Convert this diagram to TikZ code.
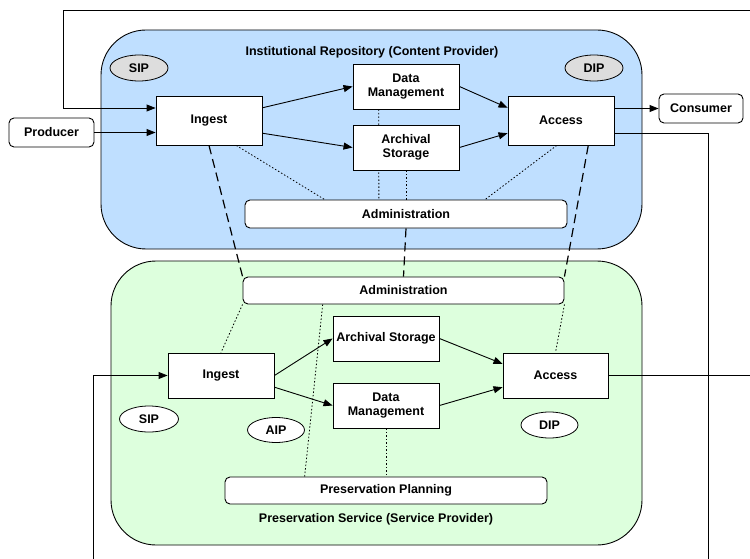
\documentclass[tikz,border=0pt]{standalone}
\usepackage{fontspec}
\setmainfont{Liberation Sans}
\usetikzlibrary{arrows.meta,calc,shapes.geometric}
\pgfdeclarelayer{bgbox}
\pgfdeclarelayer{lines}
\pgfsetlayers{bgbox,lines,main}
\definecolor{repblue}{HTML}{BFDFFF}
\definecolor{presgreen}{HTML}{DDFFDD}
\definecolor{sipgray}{HTML}{DDDDDD}
\tikzset{
  every node/.style={font=\fontsize{12.5}{13.5}\selectfont\bfseries},
  func/.style={draw=black, line width=0.9pt, fill=white, rectangle, align=center, inner sep=1pt},
  band/.style={draw=black, line width=0.9pt, fill=white, rectangle, rounded corners=5pt, inner sep=1pt},
  actor/.style={draw=black, line width=0.9pt, fill=white, rectangle, rounded corners=5pt, inner sep=1pt},
  pkg/.style={draw=black, line width=0.8pt, ellipse, inner sep=0pt},
  container/.style={draw=black, line width=0.9pt, rectangle, rounded corners=45pt},
  arr/.style={line width=0.9pt, -{Triangle[length=9pt,width=7pt]}},
  plain/.style={line width=0.9pt},
  dots/.style={line width=0.8pt, dash pattern=on 1.5pt off 2pt},
  dashes/.style={line width=1.2pt, dash pattern=on 9pt off 5pt},
}
\begin{document}
\begin{tikzpicture}[x=1pt,y=-1pt]
\useasboundingbox (0,0) rectangle (750,559);
% containers
\begin{pgfonlayer}{bgbox}
\node[container, fill=repblue, minimum width=541pt, minimum height=219pt] (repo) at (371.5,139.5) {};
\node[container, fill=presgreen, minimum width=531pt, minimum height=284pt] (pres) at (376.5,403) {};
\end{pgfonlayer}
\node (titleA) at (372,52) {Institutional Repository (Content Provider)};
\node (titleB) at (376,519) {Preservation Service (Service Provider)};
% top nodes
\node[func, minimum width=106pt, minimum height=49pt] (ingA) at (209,120.5) {Ingest};
\node[func, minimum width=106pt, minimum height=45pt] (dmA) at (406,86.5) {Data\\Management};
\node[func, minimum width=106pt, minimum height=45pt] (asA) at (406,147.5) {Archival\\Storage};
\node[func, minimum width=106pt, minimum height=49pt] (accA) at (561,120.5) {Access};
\node[actor, minimum width=85pt, minimum height=29pt] (prod) at (51.5,132.5) {Producer};
\node[actor, minimum width=84pt, minimum height=29pt] (cons) at (701,108.5) {Consumer};
\node[band, minimum width=322pt, minimum height=28pt] (admA) at (406,214) {Administration};
\node[pkg, fill=sipgray, minimum width=58pt, minimum height=26pt] (sipA) at (139,68) {SIP};
\node[pkg, fill=sipgray, minimum width=58pt, minimum height=26pt] (dipA) at (594,68) {DIP};
% bottom nodes
\node[band, minimum width=321pt, minimum height=27pt] (admB) at (403.5,290.5) {Administration};
\node[func, minimum width=106pt, minimum height=45pt] (ingB) at (221,375.5) {Ingest};
\node[func, minimum width=106pt, minimum height=45pt] (asB) at (386,338.5) {Archival Storage};
\node[func, minimum width=106pt, minimum height=45pt] (dmB) at (386,405.5) {Data\\Management};
\node[func, minimum width=105pt, minimum height=45pt] (accB) at (555.5,375.5) {Access};
\node[pkg, fill=white, minimum width=59pt, minimum height=26pt] (sipB) at (149,419) {SIP};
\node[pkg, fill=white, minimum width=57pt, minimum height=25pt] (aipB) at (276,430) {AIP};
\node[pkg, fill=white, minimum width=57pt, minimum height=26pt] (dipB) at (549.5,425) {DIP};
\node[band, minimum width=322pt, minimum height=27pt] (ppB) at (386,490.5) {Preservation Planning};
% free ends
\coordinate (fbR) at (750,10);
\coordinate (fbL) at (63,108);
\coordinate (rdn) at (708,559);
\coordinate (ldn) at (93,559);
\coordinate (rB) at (750,375.5);
% dotted and dashed relations
\begin{pgfonlayer}{lines}
\draw[dots] ($(ingA.south west)!0.755!(ingA.south east)$) -- ($(admA.north west)!0.248!(admA.north east)$);
\draw[dots] ($(dmA.south west)!0.245!(dmA.south east)$) -- ($(admA.north west)!0.416!(admA.north east)$);
\draw[dots] (asA.south) -- (admA.north);
\draw[dots] ($(accA.south west)!0.46!(accA.south east)$) -- ($(admA.north west)!0.745!(admA.north east)$);
\draw[dashes] (ingA.south) -- (admB.north west);
\draw[dashes] ($(accA.south west)!0.755!(accA.south east)$) -- (admB.north east);
\draw[dashes] (admA.south) -- (admB.north);
\draw[dots] (admB.south west) -- (ingB.north);
\draw[dots] ($(admB.south west)!0.249!(admB.south east)$) -- ($(ppB.north west)!0.248!(ppB.north east)$);
\draw[dots] (dmB.south) -- (ppB.north);
\draw[dots] (admB.south east) -- (accB.north);
\end{pgfonlayer}
% top flows
\draw[arr] (fbR) -| (fbL) -- (fbL -| ingA.west);
\draw[arr] (prod.east) -- (prod.east -| ingA.west);
\draw[arr] ($(ingA.north east)!0.245!(ingA.south east)$) -- (dmA.west);
\draw[arr] ($(ingA.north east)!0.755!(ingA.south east)$) -- (asA.west);
\draw[arr] (dmA.east) -- ($(accA.north west)!0.245!(accA.south west)$);
\draw[arr] (asA.east) -- ($(accA.north west)!0.755!(accA.south west)$);
\draw[arr] (cons.west -| accA.east) -- (cons.west);
\draw[plain] ($(accA.north east)!0.755!(accA.south east)$) -| (rdn);
% bottom flows
\draw[arr] (ldn) |- (ingB.west);
\draw[plain] (accB.east) -- (rB);
\draw[arr] (ingB.east) -- (asB.west);
\draw[arr] ($(ingB.north east)!0.755!(ingB.south east)$) -- (dmB.west);
\draw[arr] (asB.east) -- ($(accB.north west)!0.245!(accB.south west)$);
\draw[arr] (dmB.east) -- ($(accB.north west)!0.755!(accB.south west)$);
\end{tikzpicture}
\end{document}
